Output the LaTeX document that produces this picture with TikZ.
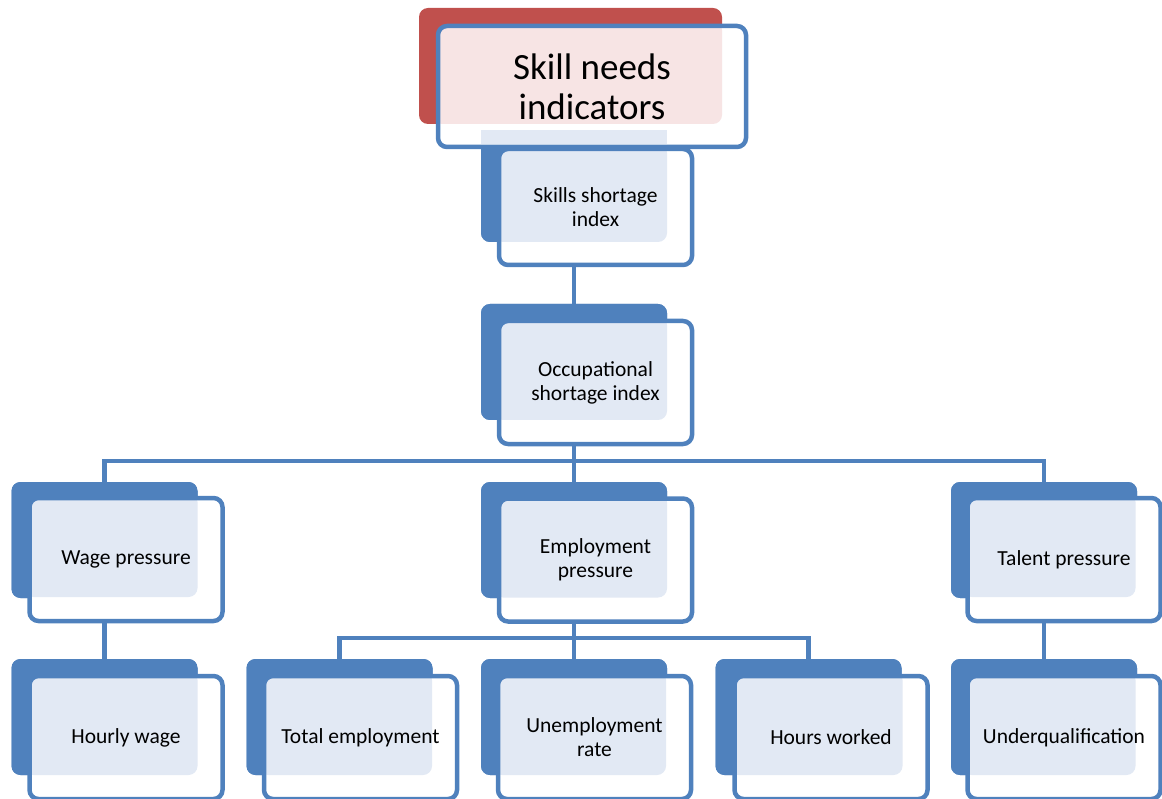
\documentclass[tikz,border=0pt]{standalone}
\usepackage{fontspec}
\setmainfont{Carlito}
\usetikzlibrary{calc}
\definecolor{sblue}{HTML}{4F81BD}
\definecolor{sred}{HTML}{C0504D}
\definecolor{stip}{HTML}{E2E9F4}
\definecolor{stippink}{HTML}{F7E4E4}
\tikzset{
  backbox/.style={rectangle, rounded corners=9pt, fill=sblue, minimum width=186pt, minimum height=116pt, inner sep=0pt, outer sep=0pt},
  frontbox/.style={rectangle, rounded corners=9pt, draw=sblue, line width=4.5pt, fill=white,
    minimum width=193pt, minimum height=123pt, inner sep=0pt, outer sep=0pt, align=center,
    font=\fontsize{21.5pt}{24pt}\selectfont,
    path picture={\fill[stip, rounded corners=9pt] ($(path picture bounding box.north west)+(-5,-5)$) rectangle ($(path picture bounding box.north west)+(168,99)$);}},
  conn/.style={draw=sblue, line width=4.5pt, line join=miter},
}
\begin{document}
\begin{tikzpicture}[x=1pt,y=-1pt]
\useasboundingbox (0,0) rectangle (1162,799);
\coordinate (bar1) at (574,461);
\coordinate (bar2) at (574,638);
% back boxes
\node[backbox, minimum height=112pt] (skills-b) at (574,186) {};
\node[backbox] (occ-b) at (574,362) {};
\node[backbox] (wage-b) at (104.5,540) {};
\node[backbox] (emp-b) at (574,540) {};
\node[backbox] (talent-b) at (1044,540) {};
\node[backbox] (hourly-b) at (104.5,717) {};
\node[backbox] (total-b) at (339.5,717) {};
\node[backbox] (unemp-b) at (574,717) {};
\node[backbox] (hours-b) at (808.5,717) {};
\node[backbox] (under-b) at (1044,717) {};
% connectors
\draw[conn] (skills-b.center) -- (occ-b.north);
\draw[conn] (occ-b.center) -- (bar1) -- (emp-b.north);
\draw[conn] (wage-b.north) |- (bar1) -| (talent-b.north);
\draw[conn] (wage-b.center) -- (hourly-b.north);
\draw[conn] (talent-b.center) -- (under-b.north);
\draw[conn] (emp-b.center) -- (bar2) -- (unemp-b.north);
\draw[conn] (total-b.north) |- (bar2) -| (hours-b.north);
% redraw backs over connectors
\foreach \n in {skills,occ,wage,emp,talent,hourly,total,unemp,hours,under}{
  \fill[sblue, rounded corners=9pt] (\n-b.north west) rectangle (\n-b.south east);
}
% top node
\node[backbox, fill=sred, minimum width=303pt] (top-b) at (570.5,66) {};
\node[frontbox, minimum width=308pt, minimum height=121pt, font=\fontsize{37pt}{40pt}\selectfont,
  path picture={\fill[stippink, rounded corners=9pt] ($(path picture bounding box.north west)+(-5,-5)$) rectangle ($(path picture bounding box.north west)+(284,98)$);}]
  (top) at (592,86.5) {Skill needs\\indicators};
\fill[stip] (skills-b.north west) rectangle (667,144.5);
% front nodes
\node[frontbox, minimum height=116pt,
  path picture={\fill[stip, rounded corners=9pt] ($(path picture bounding box.north west)+(-5,-5)$) rectangle ($(path picture bounding box.north west)+(168,93)$);}]
  (skills) at (595.5,207) {Skills shortage\\index};
\node[frontbox] (occ) at (595.5,382.5) {Occupational\\shortage index};
\node[frontbox] (wage) at (126,559.5) {\raisebox{-2pt}{Wage pressure}};
\node[frontbox] (emp) at (595.5,560) {Employment\\pressure};
\node[frontbox] (talent) at (1064,559.5) {\raisebox{-2pt}{Talent pressure}};
\node[frontbox] (hourly) at (126,737.5) {\raisebox{-2pt}{Hourly wage}};
\node[frontbox] (total) at (360.5,737.5) {\raisebox{-2pt}{Total employment}};
\node[frontbox] (unemp) at (594.5,737.5) {Unemployment\\rate};
\node[frontbox] (hours) at (831,737.5) {\raisebox{-2pt}{Hours worked}};
\node[frontbox] (under) at (1064,737.5) {\raisebox{-2pt}{Underqualification}};
\end{tikzpicture}
\end{document}
